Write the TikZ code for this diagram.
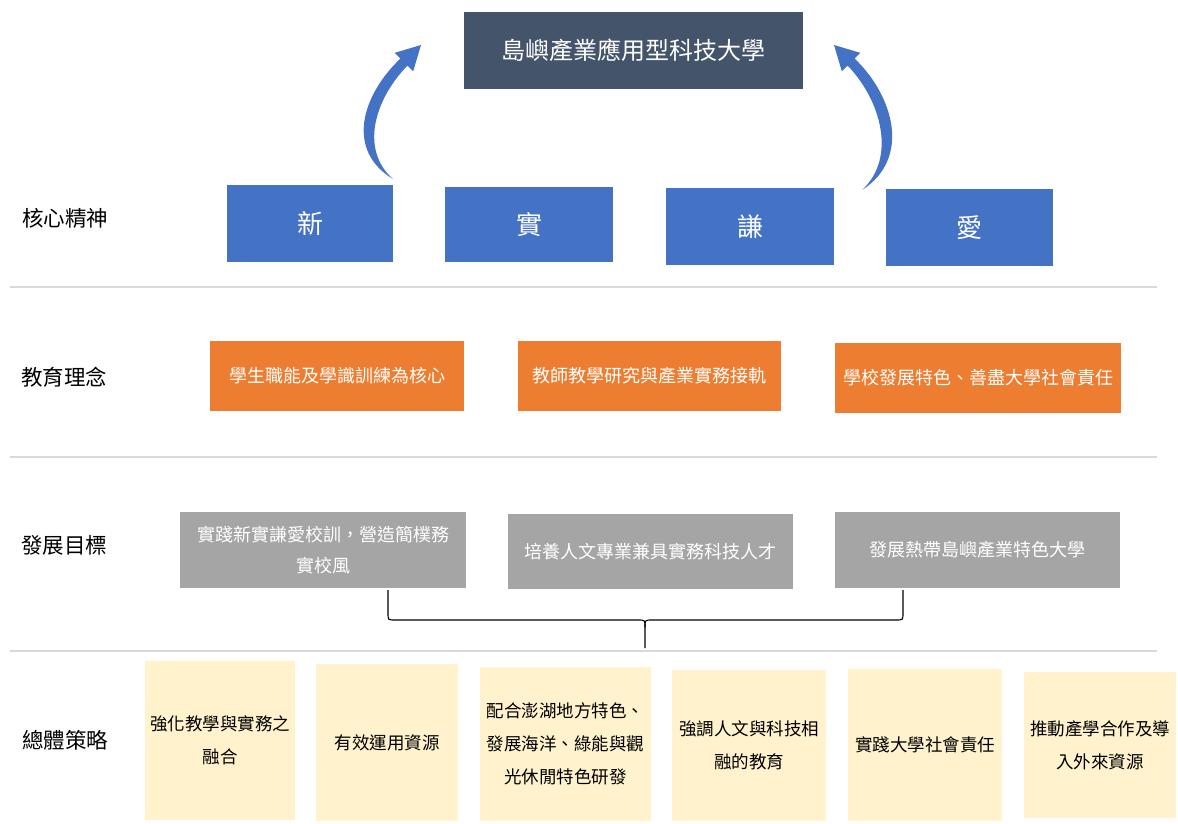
\documentclass[tikz,border=0pt]{standalone}
\usepackage{fontspec}
\setmainfont{Noto Sans CJK TC}
\definecolor{titlec}{HTML}{44546A}
\definecolor{bluec}{HTML}{4472C4}
\definecolor{orangec}{HTML}{ED7D31}
\definecolor{grayc}{HTML}{A5A5A5}
\definecolor{yellowc}{HTML}{FFF2CC}
\definecolor{sepc}{HTML}{D9D9D9}
\begin{document}
\begin{tikzpicture}[x=1pt,y=-1pt,
  box/.style={inner sep=0pt, outer sep=0pt, align=center},
  titlebox/.style={box, fill=titlec, text=white, font=\fontsize{24}{28}\selectfont},
  bluebox/.style={box, fill=bluec, text=white, font=\fontsize{26}{30}\selectfont},
  orangebox/.style={box, fill=orangec, text=white, font=\fontsize{18}{22}\selectfont},
  graybox/.style={box, fill=grayc, text=white, font=\fontsize{18}{31}\selectfont},
  yellowbox/.style={box, fill=yellowc, text=black, font=\fontsize{17.5}{33}\selectfont},
  rowlabel/.style={inner sep=0pt, text=black, font=\fontsize{21.5}{25}\selectfont},
  sepline/.style={draw=sepc, line width=1.3pt},
  bracket/.style={draw=black, line width=1.1pt},
  bigarrow/.style={fill=bluec, draw=none}]
\useasboundingbox (0,0) rectangle (1178,823);
\fill[white] (0,0) rectangle (1178,823);

% separators
\coordinate (s1a) at (10,287); \coordinate (s1b) at (1157,287);
\coordinate (s2a) at (10,457); \coordinate (s2b) at (1157,457);
\coordinate (s3a) at (10,651); \coordinate (s3b) at (1157,651);
\draw[sepline] (s1a) -- (s1b);
\draw[sepline] (s2a) -- (s2b);
\draw[sepline] (s3a) -- (s3b);

% title
\node[titlebox, minimum width=339pt, minimum height=77pt] (title) at (633.5,50.5) {島嶼產業應用型科技大學};

% row labels
\node[rowlabel] (l1) at (65,218) {核心精神};
\node[rowlabel] (l2) at (64,377) {教育理念};
\node[rowlabel] (l3) at (64,545) {發展目標};
\node[rowlabel] (l4) at (65,740) {總體策略};

% core spirit
\node[bluebox, minimum width=166pt, minimum height=77pt] (b1) at (310,223.5) {新};
\node[bluebox, minimum width=168pt, minimum height=75pt] (b2) at (529,224.5) {實};
\node[bluebox, minimum width=168pt, minimum height=77pt] (b3) at (750,226.5) {謙};
\node[bluebox, minimum width=167pt, minimum height=77pt] (b4) at (969.5,227.5) {愛};

% arrows
\fill[bigarrow] (393,179) .. controls (345,150) and (362,95) .. (400.5,58.5)
  -- (394.8,52.8) -- (421,45) -- (413.2,71.2) -- (407.5,65.5)
  .. controls (374,100) and (360,150) .. (393,179) -- cycle;
\fill[bigarrow] (862,190) .. controls (912,158) and (893,95) .. (854.5,58.5)
  -- (860.2,52.8) -- (834,45) -- (841.8,71.2) -- (847.5,65.5)
  .. controls (881,100) and (897,158) .. (862,190) -- cycle;

% philosophy
\node[orangebox, minimum width=254pt, minimum height=70pt] (o1) at (337,376) {學生職能及學識訓練為核心};
\node[orangebox, minimum width=263pt, minimum height=70pt] (o2) at (649.5,376) {教師教學研究與產業實務接軌};
\node[orangebox, minimum width=286pt, minimum height=70pt] (o3) at (978,378) {學校發展特色、善盡大學社會責任};

% goals
\node[graybox, minimum width=286pt, minimum height=76pt] (g1) at (323,550) {實踐新實謙愛校訓，營造簡樸務\\實校風};
\node[graybox, minimum width=285pt, minimum height=75pt] (g2) at (650.5,551.5) {培養人文專業兼具實務科技人才};
\node[graybox, minimum width=285pt, minimum height=76pt] (g3) at (977.5,550) {發展熱帶島嶼產業特色大學};

% bracket
\coordinate (brL) at (388,590);
\coordinate (brR) at (903,590);
\coordinate (brM) at (645,648);
\draw[bracket] (brL) -- (388,613) .. controls (388,620) .. (395,620) -- (638,620)
  .. controls (645,620) .. (645,627) -- (brM);
\draw[bracket] (brR) -- (903,613) .. controls (903,620) .. (896,620) -- (652,620)
  .. controls (645,620) .. (645,627);

% strategies
\node[yellowbox, minimum width=150pt, minimum height=159pt] (y1) at (220,740.5) {強化教學與實務之\\融合};
\node[yellowbox, minimum width=142pt, minimum height=157pt] (y2) at (387,742.5) {有效運用資源};
\node[yellowbox, minimum width=171pt, minimum height=154pt] (y3) at (565.5,744) {配合澎湖地方特色、\\發展海洋、綠能與觀\\光休閒特色研發};
\node[yellowbox, minimum width=154pt, minimum height=151pt] (y4) at (749,745.5) {強調人文與科技相\\融的教育};
\node[yellowbox, minimum width=154pt, minimum height=152pt] (y5) at (925,745) {實踐大學社會責任};
\node[yellowbox, minimum width=152pt, minimum height=146pt] (y6) at (1100,745) {推動產學合作及導\\入外來資源};
\end{tikzpicture}
\end{document}
